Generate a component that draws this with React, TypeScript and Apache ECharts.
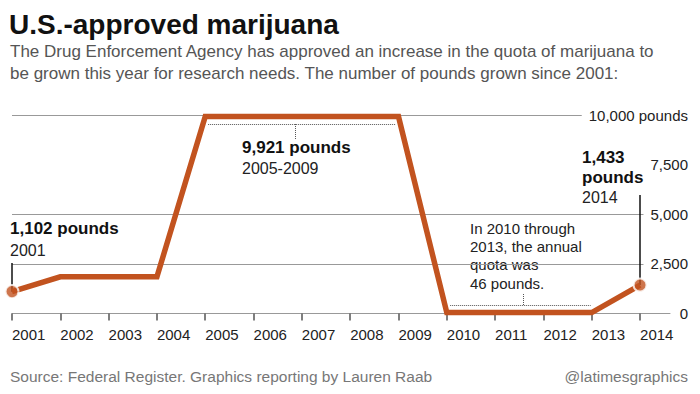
import React, { useEffect, useRef } from "react";
import * as echarts from "echarts";

const years = [2001, 2002, 2003, 2004, 2005, 2006, 2007, 2008, 2009, 2010, 2011, 2012, 2013, 2014];
const pounds = [1102, 1850, 1850, 1850, 9921, 9921, 9921, 9921, 9921, 46, 46, 46, 46, 1433];
const highlightYears = [2001, 2014];
const yTicks = [0, 2500, 5000, 7500, 10000];
const yTickLabels = ["0", "2,500", "5,000", "7,500", "10,000 pounds"];

const FONT = 'Arial, "Liberation Sans", Helvetica, sans-serif';
const ORANGE = "#c2531f";

export default function App() {
  const ref = useRef<HTMLDivElement>(null);
  useEffect(() => {
    if (!ref.current) return;
    const chart = echarts.init(ref.current, null, { renderer: "svg" });
    const lineData = years.map((y, i) => [y, pounds[i]]);
    const dotData = highlightYears.map((y) => [y, pounds[years.indexOf(y)]]);
    const leader = { color: "#111", width: 1.5, type: "solid" as const };
    const dotted = { color: "#555", width: 1, type: "dotted" as const };
    const txt = (x: number, y: number, text: string, font: string, fill: string, align = "left", extra: any = {}) => ({
      type: "text",
      x,
      y,
      silent: true,
      style: { text, font, fill, align, verticalAlign: "middle", ...extra },
    });
    chart.setOption({
      animation: false,
      backgroundColor: "#fff",
      grid: { left: 12, right: 30, top: 115, bottom: 80.5, containLabel: false, outerBoundsMode: "none" },
      xAxis: {
        type: "value",
        min: 2001,
        max: 2014.62,
        axisLine: { show: true, onZero: false, lineStyle: { color: "#999", width: 1 } },
        axisTick: { show: true, customValues: years, length: 7, lineStyle: { color: "#555", width: 1.5 } },
        axisLabel: {
          customValues: years,
          formatter: (v: number) => String(v),
          align: "left",
          verticalAlign: "middle",
          margin: 21,
          fontSize: 15,
          fontFamily: FONT,
          color: "#222",
        },
        splitLine: { show: false },
      },
      yAxis: {
        type: "value",
        position: "right",
        min: 0,
        max: 10000,
        interval: 2500,
        axisLine: { show: false },
        axisTick: { show: false },
        axisLabel: {
          formatter: (v: number) => yTickLabels[yTicks.indexOf(v)] ?? String(v),
          align: "right",
          verticalAlign: "middle",
          margin: 18,
          fontSize: 15,
          fontFamily: FONT,
          color: "#222",
          backgroundColor: "#fff",
          padding: [2, 0, 2, 7],
        },
        splitLine: {
          show: true,
          lineStyle: { color: ["#999", "#999", "#999", "rgba(0,0,0,0)", "#999"], width: 1 },
        },
      },
      series: [
        {
          type: "line",
          data: lineData,
          symbol: "none",
          z: 3,
          lineStyle: { color: ORANGE, width: 5.5, join: "miter", cap: "butt" },
          markLine: {
            silent: true,
            symbol: ["none", "none"],
            label: { show: false },
            z: 2,
            data: [
              [{ coord: [2001, 1102], lineStyle: leader }, { coord: [2001, 2540] }],
              [{ coord: [2014, 1433], lineStyle: leader }, { coord: [2014, 5970] }],
              [{ coord: [2005.06, 9547], lineStyle: dotted }, { coord: [2008.93, 9547] }],
              [{ coord: [2006.86, 9547], lineStyle: dotted }, { coord: [2006.86, 8790] }],
              [{ coord: [2010.07, 428], lineStyle: dotted }, { coord: [2012.98, 428] }],
              [{ coord: [2011.58, 428], lineStyle: dotted }, { coord: [2011.58, 1033] }],
            ],
          },
        },
        {
          type: "scatter",
          data: dotData,
          symbol: "circle",
          symbolSize: 13,
          z: 5,
          itemStyle: { color: ORANGE, borderColor: "#fff", borderWidth: 2 },
        },
      ],
      graphic: [
        txt(9, 24, "U.S.-approved marijuana", `bold 28px ${FONT}`, "#111"),
        txt(10, 51, "The Drug Enforcement Agency has approved an increase in the quota of marijuana to", `17px ${FONT}`, "#555"),
        txt(10, 73, "be grown this year for research needs. The number of pounds grown since 2001:", `17px ${FONT}`, "#555"),
        txt(10, 228, "1,102 pounds", `bold 17px ${FONT}`, "#111"),
        txt(10, 250, "2001", `16px ${FONT}`, "#222"),
        txt(242, 147, "9,921 pounds", `bold 17px ${FONT}`, "#111"),
        txt(242, 168, "2005-2009", `16px ${FONT}`, "#222"),
        txt(582, 157, "1,433", `bold 17px ${FONT}`, "#111"),
        txt(582, 177, "pounds", `bold 17px ${FONT}`, "#111"),
        txt(582, 197, "2014", `16px ${FONT}`, "#222"),
        txt(470, 228, "In 2010 through", `15px ${FONT}`, "#222"),
        txt(470, 246.5, "2013, the annual", `15px ${FONT}`, "#222"),
        txt(462, 264.5, "quota was", `15px ${FONT}`, "#222", "left", { backgroundColor: "#fff", padding: [0, 8, 0, 8] }),
        txt(470, 283, "46 pounds.", `15px ${FONT}`, "#222"),
        txt(10, 376, "Source: Federal Register. Graphics reporting by Lauren Raab", `15.5px ${FONT}`, "#777"),
        txt(688, 376, "@latimesgraphics", `15.5px ${FONT}`, "#777", "right"),
      ],
    });
    return () => chart.dispose();
  }, []);
  return (
    <div
      ref={ref}
      style={{ position: "absolute", left: 0, top: 0, width: 700, height: 394, background: "#fff" }}
    />
  );
}
